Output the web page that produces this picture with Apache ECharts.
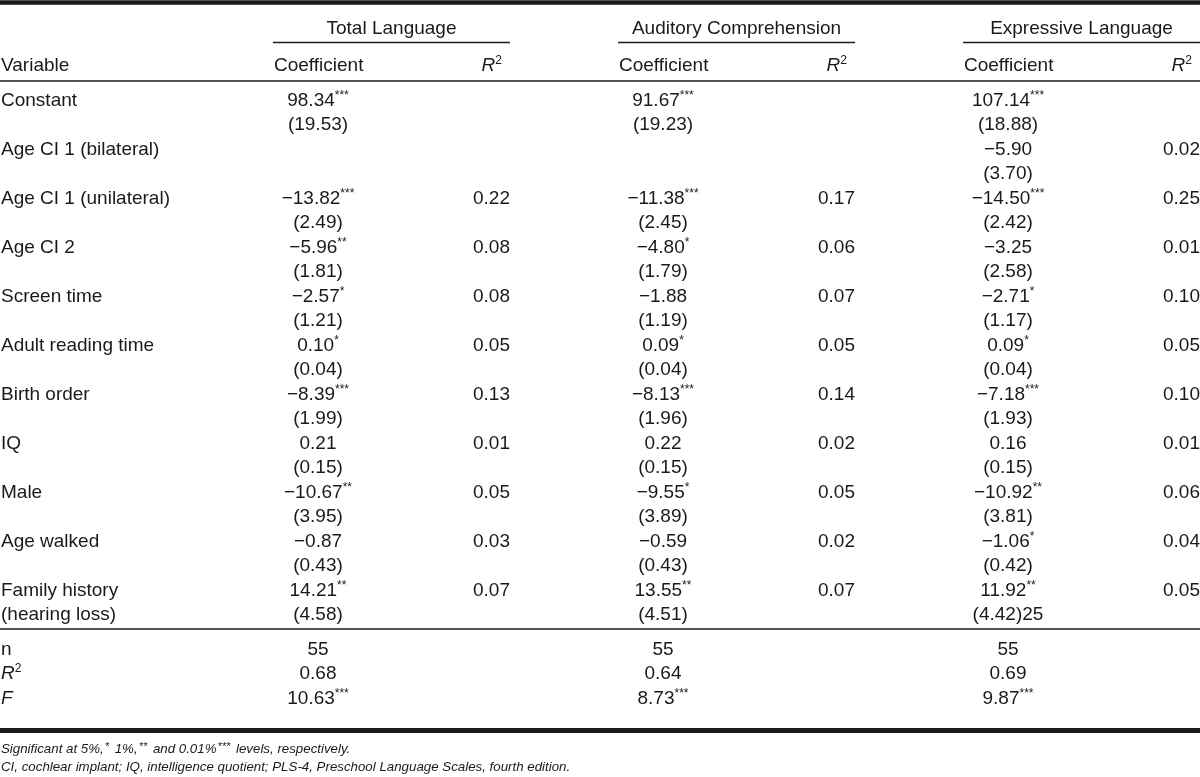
<!DOCTYPE html>
<html>
<head>
<meta charset="utf-8">
<script src="https://cdn.jsdelivr.net/npm/echarts@6/dist/echarts.min.js"></script>
<style>
  html, body { margin: 0; padding: 0; background: #fff; }
  #main { width: 1200px; height: 777px; }
</style>
</head>
<body>
<div id="main"></div>
<script>
// table data
var outcomes = ['Total Language', 'Auditory Comprehension', 'Expressive Language'];
var variableLabels = [
  ['Constant'], ['Age CI 1 (bilateral)'], ['Age CI 1 (unilateral)'], ['Age CI 2'],
  ['Screen time'], ['Adult reading time'], ['Birth order'], ['IQ'], ['Male'],
  ['Age walked'], ['Family history', '(hearing loss)']
];
var totalCoef = ['98.34***', '', '−13.82***', '−5.96**', '−2.57*', '0.10*', '−8.39***', '0.21', '−10.67**', '−0.87', '14.21**'];
var totalSE   = ['(19.53)', '', '(2.49)', '(1.81)', '(1.21)', '(0.04)', '(1.99)', '(0.15)', '(3.95)', '(0.43)', '(4.58)'];
var totalR2   = ['', '', '0.22', '0.08', '0.08', '0.05', '0.13', '0.01', '0.05', '0.03', '0.07'];
var audCoef = ['91.67***', '', '−11.38***', '−4.80*', '−1.88', '0.09*', '−8.13***', '0.22', '−9.55*', '−0.59', '13.55**'];
var audSE   = ['(19.23)', '', '(2.45)', '(1.79)', '(1.19)', '(0.04)', '(1.96)', '(0.15)', '(3.89)', '(0.43)', '(4.51)'];
var audR2   = ['', '', '0.17', '0.06', '0.07', '0.05', '0.14', '0.02', '0.05', '0.02', '0.07'];
var expCoef = ['107.14***', '−5.90', '−14.50***', '−3.25', '−2.71*', '0.09*', '−7.18***', '0.16', '−10.92**', '−1.06*', '11.92**'];
var expSE   = ['(18.88)', '(3.70)', '(2.42)', '(2.58)', '(1.17)', '(0.04)', '(1.93)', '(0.15)', '(3.81)', '(0.42)', '(4.42)25'];
var expR2   = ['', '0.02', '0.25', '0.01', '0.10', '0.05', '0.10', '0.01', '0.06', '0.04', '0.05'];
var summaryLabels = ['n', 'R2', 'F'];
var totalSummary = ['55', '0.68', '10.63***'];
var audSummary   = ['55', '0.64', '8.73***'];
var expSummary   = ['55', '0.69', '9.87***'];

var coefCols = [totalCoef, audCoef, expCoef];
var seCols = [totalSE, audSE, expSE];
var r2Cols = [totalR2, audR2, expR2];
var summaryCols = [totalSummary, audSummary, expSummary];

// layout (axis units = pixels)
var FONT = '"Liberation Sans", Arial, Helvetica, sans-serif';
var INK = '#1a1a1a';
var groupStart = [273, 618, 963];
var groupWidth = 237;
var groupY = 27, headY = 64, bodyY = 99, half = 24.5, sumY = 648, noteY = 748, notePitch = 18;
var TEXT_DY = 1.5;

var RICH = {
  v:   { fontSize: 19, fontFamily: FONT, lineHeight: 22, fill: INK },
  s:   { fontSize: 12, fontFamily: FONT, lineHeight: 12, verticalAlign: 'top', fill: INK },
  i:   { fontSize: 19, fontFamily: FONT, fontStyle: 'italic', lineHeight: 22, fill: INK },
  sup: { fontSize: 12, fontFamily: FONT, lineHeight: 12, verticalAlign: 'top', fill: INK },
  n:   { fontSize: 13.3, fontFamily: FONT, fontStyle: 'italic', lineHeight: 16, fill: INK },
  ns:  { fontSize: 11, fontFamily: FONT, fontStyle: 'italic', lineHeight: 10, verticalAlign: 'top', fill: INK, padding: [0, 2, 0, 1] }
};

function fmt(s) {
  var m = s.match(/^(.*?)(\*+)$/);
  if (m) return '{v|' + m[1] + '}{s|' + m[2] + '}';
  return '{v|' + s + '}';
}

var cells = [];
function add(x, y, text, align) { cells.push({ value: [x, y], text: text, align: align }); }

// headers
add(1, headY, '{v|Variable}', 'left');
outcomes.forEach(function (name, g) {
  var x0 = groupStart[g];
  add(x0 + groupWidth / 2, groupY, '{v|' + name + '}', 'center');
  add(x0 + 1, headY, '{v|Coefficient}', 'left');
  add(x0 + groupWidth - 8, headY, '{i|R}{sup|2}', 'right');
});

// body
variableLabels.forEach(function (lines, i) {
  lines.forEach(function (t, k) { add(1, bodyY + (2 * i + k) * half, '{v|' + t + '}', 'left'); });
});
coefCols.forEach(function (col, g) {
  var cx = groupStart[g] + 45, rx = groupStart[g] + groupWidth;
  col.forEach(function (c, i) {
    var y = bodyY + 2 * i * half;
    if (c) add(cx, y, fmt(c), 'center');
    if (seCols[g][i]) add(cx, y + half, fmt(seCols[g][i]), 'center');
    if (r2Cols[g][i]) add(rx, y, fmt(r2Cols[g][i]), 'right');
  });
});

// summary block
summaryLabels.forEach(function (lab, j) {
  var txt = lab === 'n' ? '{v|n}' : lab === 'R2' ? '{i|R}{sup|2}' : '{i|' + lab + '}';
  add(1, sumY + j * half, txt, 'left');
});
summaryCols.forEach(function (col, g) {
  col.forEach(function (c, j) { add(groupStart[g] + 45, sumY + j * half, fmt(c), 'center'); });
});

// footnotes
add(1, noteY, '{n|Significant at 5%,}{ns|*}{n| 1%,}{ns|**}{n| and 0.01%}{ns|***}{n| levels, respectively.}', 'left');
add(1, noteY + notePitch, '{n|CI, cochlear implant; IQ, intelligence quotient; PLS-4, Preschool Language Scales, fourth edition.}', 'left');

// rules
var rules = [
  { coords: [[0, 2], [1200, 2]], lineStyle: { width: 4.5 } },
  { coords: [[0, 81], [1200, 81]], lineStyle: { width: 1.5 } },
  { coords: [[0, 629], [1200, 629]], lineStyle: { width: 1.5 } },
  { coords: [[0, 730.5], [1200, 730.5]], lineStyle: { width: 5 } }
];
groupStart.forEach(function (x0) {
  rules.push({ coords: [[x0, 42], [x0 + groupWidth, 42]], lineStyle: { width: 1.4 } });
});

var chart = echarts.init(document.getElementById('main'));
chart.setOption({
  animation: false,
  backgroundColor: '#fff',
  grid: { left: 0, right: 0, top: 0, bottom: 0 },
  xAxis: { type: 'value', min: 0, max: 1200, show: false },
  yAxis: { type: 'value', min: 0, max: 777, inverse: true, show: false },
  series: [
    {
      type: 'lines',
      coordinateSystem: 'cartesian2d',
      silent: true,
      lineStyle: { color: INK, opacity: 1 },
      data: rules
    },
    {
      type: 'custom',
      silent: true,
      data: cells,
      renderItem: function (params, api) {
        var p = api.coord([api.value(0), api.value(1)]);
        var cell = cells[params.dataIndex];
        return {
          type: 'text',
          x: p[0],
          y: p[1] + TEXT_DY,
          style: {
            text: cell.text,
            rich: RICH,
            align: cell.align,
            verticalAlign: 'middle',
            fill: INK
          }
        };
      }
    }
  ]
});
</script>
</body>
</html>
